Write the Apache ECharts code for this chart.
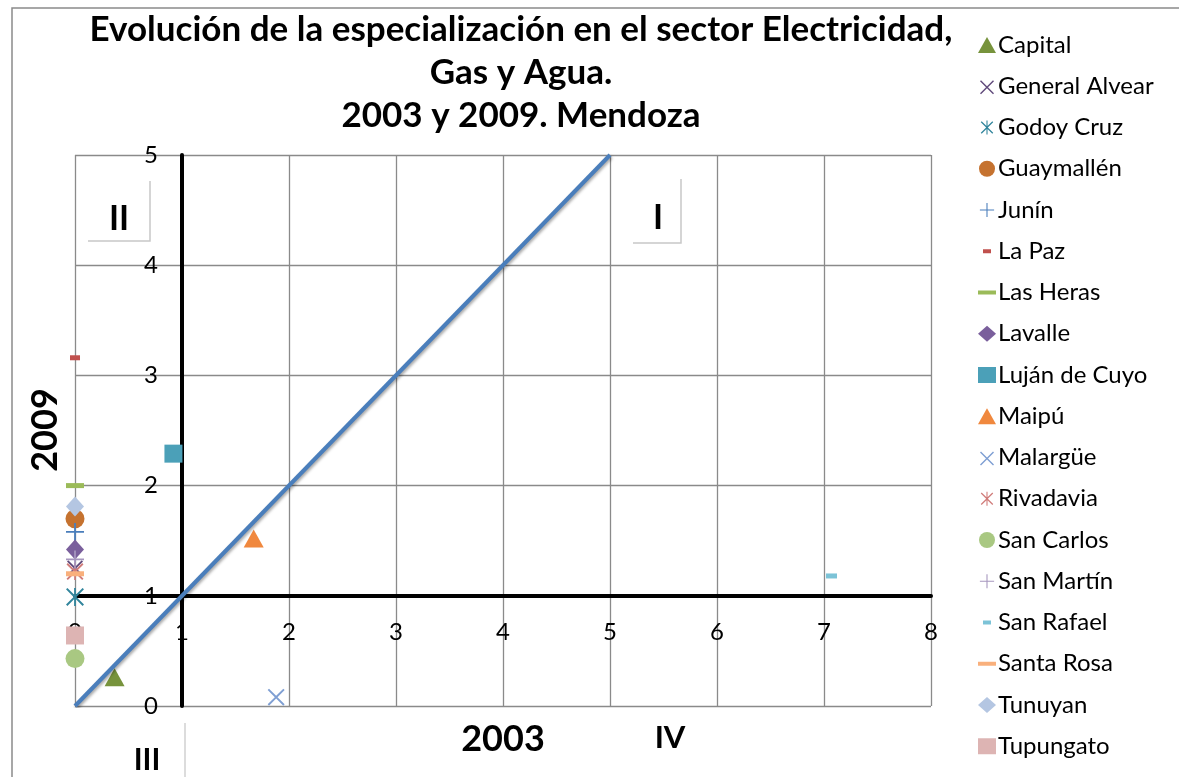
<!DOCTYPE html>
<html>
<head>
<meta charset="utf-8">
<script src="https://cdn.jsdelivr.net/npm/echarts@6/dist/echarts.min.js"></script>
<style>
  html, body { margin: 0; padding: 0; background: #fff; }
  #chart { width: 1179px; height: 777px; }
</style>
</head>
<body>
<div id="chart"></div>
<script>
// Departamentos de Mendoza: coeficiente de especialización 2003 (x) y 2009 (y)
const departamentos = ['Capital', 'General Alvear', 'Godoy Cruz', 'Guaymallén', 'Junín', 'La Paz',
  'Las Heras', 'Lavalle', 'Luján de Cuyo', 'Maipú', 'Malargüe', 'Rivadavia', 'San Carlos',
  'San Martín', 'San Rafael', 'Santa Rosa', 'Tunuyan', 'Tupungato'];
const valores2003 = [0.37, 0, 0, 0, 0, 0, 0, 0, 0.92, 1.67, 1.88, 0, 0, 0, 7.07, 0, 0, 0];
const valores2009 = [0.26, 1.25, 0.99, 1.70, 1.58, 3.16, 2.00, 1.42, 2.29, 1.52, 0.08, 1.22, 0.43, 1.33, 1.18, 1.20, 1.81, 0.64];

// Recta de igual especialización (y = x)
const rectaX = [0, 5];
const rectaY = [0, 5];

// Ticks
const ticksX = [0, 1, 2, 3, 4, 5, 6, 7, 8];
const ticksY = [0, 1, 2, 3, 4, 5];

// Layout of the plot
const G = { left: 75, top: 155, width: 856, height: 551 };
const CRUCE = 1; // axes cross at 1 on both scales

// Marker shapes
const P_X = 'path://M0,8L8,0L50,42L92,0L100,8L58,50L100,92L92,100L50,58L8,100L0,92L42,50Z';
const P_PLUS = 'path://M45,0L55,0L55,45L100,45L100,55L55,55L55,100L45,100L45,55L0,55L0,45L45,45Z';
const P_AST = 'path://M0,8L8,0L50,42L92,0L100,8L58,50L100,92L92,100L50,58L8,100L0,92L42,50ZM45,0L55,0L55,100L45,100Z';
// legend icons with invisible padding so they keep a small size in the icon box
const I_DASH_S = 'path://M0,0M5,6H13V10H5ZM18,16';
const I_DASH_L = 'path://M0,0M0,6H18V10H0ZM18,16';
const I_X = 'path://M0,0M2,2M2,3L3,2L9,8L15,2L16,3L10,9L16,15L15,16L9,10L3,16L2,15L8,9ZM18,16';
const I_PLUS = 'path://M0,0M8.4,1H9.6V8.4H17V9.6H9.6V17H8.4V9.6H1V8.4H8.4ZM18,18';
const I_AST = 'path://M0,0M2,3L3,2L9,8L15,2L16,3L10,9L16,15L15,16L9,10L3,16L2,15L8,9ZM8.4,1H9.6V17H8.4ZM18,18';

const estilos = [
  { c: '#77933C', s: 'triangle', z: [20, 18], i: 'triangle' },
  { c: '#604A7B', s: P_X, z: 16, i: I_X },
  { c: '#31859C', s: P_AST, z: 18, i: I_AST },
  { c: '#C5722F', s: 'circle', z: 19, i: 'circle' },
  { c: '#4A7EBB', s: P_PLUS, z: 18, i: I_PLUS },
  { c: '#C0504D', s: 'rect', z: [10, 5], i: I_DASH_S },
  { c: '#9BBB59', s: 'rect', z: [18, 5], i: I_DASH_L },
  { c: '#7A5F9C', s: 'diamond', z: [18, 20], i: 'diamond' },
  { c: '#4BA0B8', s: 'rect', z: [18, 18], i: 'rect' },
  { c: '#F0883E', s: 'triangle', z: [20, 18], i: 'triangle' },
  { c: '#7F9FD3', s: P_X, z: 17, i: I_X },
  { c: '#D07C7A', s: P_AST, z: 17, i: I_AST },
  { c: '#A9C882', s: 'circle', z: 19, i: 'circle' },
  { c: '#A696BE', s: P_PLUS, z: 18, i: I_PLUS },
  { c: '#7CC3D7', s: 'rect', z: [11, 5], i: I_DASH_S },
  { c: '#F9B07C', s: 'rect', z: [18, 5], i: I_DASH_L },
  { c: '#B4C6E2', s: 'diamond', z: [18, 20], i: 'diamond' },
  { c: '#DDB4B3', s: 'rect', z: [18, 18], i: 'rect' }
];

const FONT = 'Lato, "Open Sans", sans-serif';

const series = departamentos.map((n, k) => ({
  name: n,
  type: 'scatter',
  data: [[valores2003[k], valores2009[k]]],
  symbol: estilos[k].s,
  symbolSize: estilos[k].z,
  itemStyle: { color: estilos[k].c, opacity: 1 },
  z: 4,
  silent: true
}));

series.unshift({
  name: 'y = x',
  type: 'line',
  data: rectaX.map((v, k) => [v, rectaY[k]]),
  showSymbol: false,
  symbol: 'none',
  lineStyle: { color: '#4A7EBB', width: 4, shadowColor: 'rgba(0,0,0,0.35)', shadowBlur: 3, shadowOffsetX: 1, shadowOffsetY: 2 },
  z: 5,
  silent: true
});

const chart = echarts.init(document.getElementById('chart'), null, { renderer: 'canvas' });

const gris = '#8a8a8a';

chart.setOption({
  animation: false,
  backgroundColor: '#fff',
  grid: { left: G.left, top: G.top, width: G.width, height: G.height, containLabel: false },
  xAxis: {
    type: 'value',
    min: ticksX[0], max: ticksX[ticksX.length - 1], interval: 1,
    offset: -(CRUCE - ticksY[0]) / (ticksY[ticksY.length - 1] - ticksY[0]) * G.height,
    axisLine: { show: true, onZero: false, lineStyle: { color: '#000', width: 4 } },
    axisTick: { show: false },
    axisLabel: { color: '#000', fontSize: 24, fontFamily: FONT, margin: 24, showMinLabel: true, showMaxLabel: true },
    splitLine: { show: true, lineStyle: { color: gris, width: 1.3 } }
  },
  yAxis: {
    type: 'value',
    min: ticksY[0], max: ticksY[ticksY.length - 1], interval: 1,
    offset: -(CRUCE - ticksX[0]) / (ticksX[ticksX.length - 1] - ticksX[0]) * G.width,
    axisLine: { show: true, onZero: false, lineStyle: { color: '#000', width: 4 } },
    axisTick: { show: false },
    axisLabel: { color: '#000', fontSize: 24, fontFamily: FONT, margin: 24, showMinLabel: true, showMaxLabel: true },
    splitLine: { show: true, lineStyle: { color: gris, width: 1.3 } }
  },
  legend: {
    orient: 'vertical',
    left: 973,
    top: 28,
    itemWidth: 18,
    itemHeight: 16,
    itemGap: 17.25,
    selectedMode: false,
    textStyle: { color: '#000', fontSize: 24, fontFamily: FONT, padding: [0, 0, 0, -3] },
    data: departamentos.map((n, k) => ({ name: n, icon: estilos[k].i }))
  },
  series: series,
  graphic: [
    // outer frame
    { type: 'polyline', silent: true, shape: { points: [[12, 777], [12, 8], [1179, 8]] },
      style: { stroke: '#8a8a8a', lineWidth: 1.5, fill: null } },
    // title
    { type: 'text', silent: true, x: 521, y: 8,
      style: { text: 'Evolución de la especialización en el sector Electricidad,\nGas y Agua.\n2003 y 2009. Mendoza',
        fill: '#000', font: 'bold 35px ' + FONT, align: 'center', verticalAlign: 'top', lineHeight: 43 } },
    // axis names
    { type: 'text', silent: true, x: 503, y: 739,
      style: { text: '2003', fill: '#000', font: 'bold 36px ' + FONT, align: 'center', verticalAlign: 'middle' } },
    { type: 'text', silent: true, x: 45, y: 430, rotation: Math.PI / 2,
      style: { text: '2009', fill: '#000', font: 'bold 36px ' + FONT, align: 'center', verticalAlign: 'middle' } },
    // quadrant labels
    { type: 'polyline', silent: true, shape: { points: [[150, 181], [150, 241], [88, 241]] },
      style: { stroke: '#c8c8c8', lineWidth: 1.5, fill: null }, z: 10 },
    { type: 'text', silent: true, x: 119, y: 219, z: 10,
      style: { text: 'II', fill: '#000', font: 'bold 34px ' + FONT, align: 'center', verticalAlign: 'middle' } },
    { type: 'polyline', silent: true, shape: { points: [[681, 179], [681, 243], [633, 243]] },
      style: { stroke: '#c8c8c8', lineWidth: 1.5, fill: null }, z: 10 },
    { type: 'text', silent: true, x: 658, y: 218, z: 10,
      style: { text: 'I', fill: '#000', font: 'bold 34px ' + FONT, align: 'center', verticalAlign: 'middle' } },
    { type: 'line', silent: true, shape: { x1: 185, y1: 723, x2: 185, y2: 777 },
      style: { stroke: '#d0d0d0', lineWidth: 1.5 } },
    { type: 'text', silent: true, x: 147, y: 760,
      style: { text: 'III', fill: '#000', font: 'bold 30px ' + FONT, align: 'center', verticalAlign: 'middle' } },
    { type: 'text', silent: true, x: 670, y: 738,
      style: { text: 'IV', fill: '#000', font: 'bold 31px ' + FONT, align: 'center', verticalAlign: 'middle' } }
  ]
});
</script>
</body>
</html>
